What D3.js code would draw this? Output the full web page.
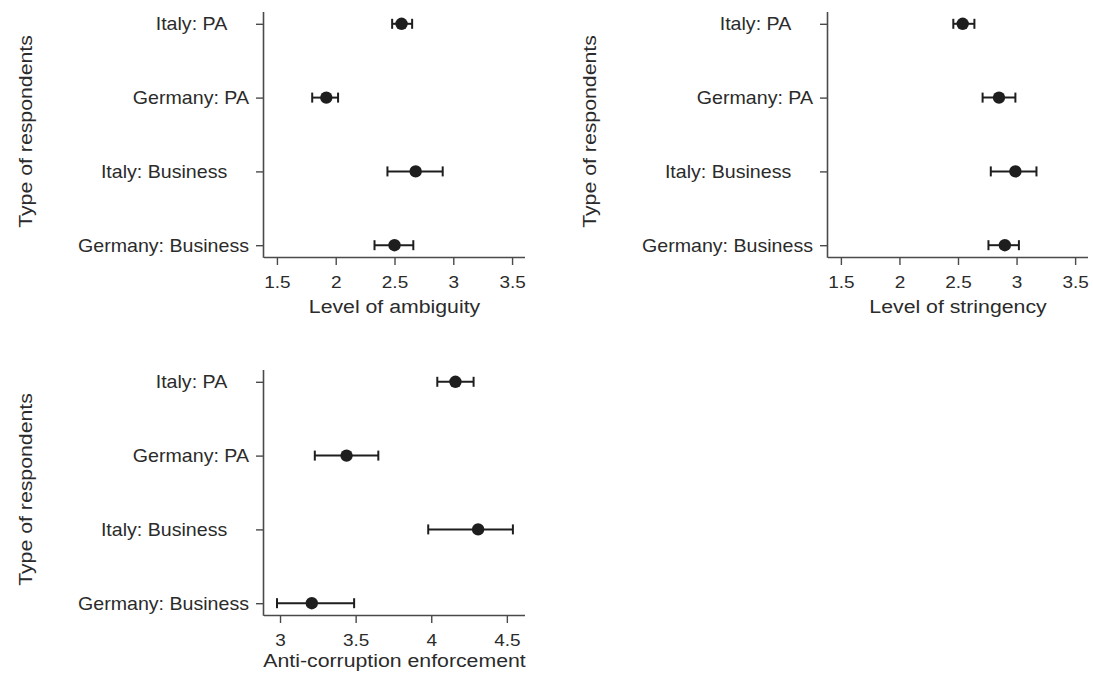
<!DOCTYPE html>
<html>
<head>
<meta charset="utf-8">
<script src="https://cdn.jsdelivr.net/npm/d3@7"></script>
<style>
  html, body { margin: 0; padding: 0; background: #fff; }
  svg { display: block; }
  text { font-family: "Liberation Sans", Arial, Helvetica, sans-serif; fill: #2b2b2b; }
</style>
</head>
<body>
<svg id="chart" width="1093" height="677"></svg>
<script>
// ---------- data ----------
const categories = ["Italy: PA\u00a0\u00a0\u00a0\u00a0", "Germany: PA", "Italy: Business\u00a0\u00a0\u00a0\u00a0", "Germany: Business"];

const ambiguityMean = [2.56, 1.92, 2.68, 2.50];
const ambiguityLow  = [2.48, 1.80, 2.44, 2.33];
const ambiguityHigh = [2.65, 2.02, 2.91, 2.66];

const stringencyMean = [2.54, 2.85, 2.99, 2.90];
const stringencyLow  = [2.46, 2.71, 2.78, 2.76];
const stringencyHigh = [2.64, 2.99, 3.17, 3.02];

const enforcementMean = [4.16, 3.44, 4.31, 3.21];
const enforcementLow  = [4.04, 3.23, 3.98, 2.98];
const enforcementHigh = [4.28, 3.65, 4.54, 3.49];

const levelTicks = [1.5, 2, 2.5, 3, 3.5];
const enforcementTicks = [3, 3.5, 4, 4.5];

const yTitle = "Type of respondents";
const xTitles = ["Level of ambiguity", "Level of stringency", "Anti-corruption enforcement"];

// ---------- layout ----------
const panels = [
  { x0: 264, x1: 525, y0: 12, y1: 257, domain: [1.39, 3.61], ticks: levelTicks,
    mean: ambiguityMean, low: ambiguityLow, high: ambiguityHigh, title: xTitles[0], titleOff: 56 },
  { x0: 828, x1: 1088, y0: 12, y1: 257, domain: [1.39, 3.61], ticks: levelTicks,
    mean: stringencyMean, low: stringencyLow, high: stringencyHigh, title: xTitles[1], titleOff: 56 },
  { x0: 264, x1: 525, y0: 370, y1: 615, domain: [2.894, 4.62], ticks: enforcementTicks,
    mean: enforcementMean, low: enforcementLow, high: enforcementHigh, title: xTitles[2], titleOff: 52 }
];

const SX_TICK = 1.15, SX_LAB = 1.06, SX_TITLE = 1.12;
const axisColor = "#4a4a4a";
const markColor = "#1e1e1e";

const svg = d3.select("#chart");

panels.forEach(p => {
  const x = d3.scaleLinear().domain(p.domain).range([p.x0, p.x1]);
  const y = d3.scalePoint().domain(categories).range([p.y0, p.y1]).padding(0.16);
  const g = svg.append("g");

  // x axis
  const xa = g.append("g")
    .attr("transform", `translate(0,${p.y1})`)
    .call(d3.axisBottom(x).tickValues(p.ticks).tickFormat(d3.format("")).tickSizeInner(8).tickSizeOuter(0).tickPadding(11));
  xa.select(".domain").attr("stroke", axisColor).attr("stroke-width", 1.6)
    .attr("d", `M${p.x0},0.5H${p.x1}`);
  xa.selectAll(".tick line").attr("stroke", axisColor).attr("stroke-width", 1.4);
  xa.selectAll(".tick text").attr("font-size", 16.5).attr("fill", "#2b2b2b")
    .attr("font-family", "Liberation Sans, Arial, sans-serif")
    .attr("transform", `scale(${SX_TICK},1)`);

  // y axis
  const ya = g.append("g")
    .attr("transform", `translate(${p.x0},0)`)
    .call(d3.axisLeft(y).tickSizeInner(8).tickSizeOuter(0).tickPadding(7));
  ya.select(".domain").attr("stroke", axisColor).attr("stroke-width", 1.6)
    .attr("d", `M-0.5,${p.y0}V${p.y1 + 0.8}`);
  ya.selectAll(".tick line").attr("stroke", axisColor).attr("stroke-width", 1.4);
  ya.selectAll(".tick text").attr("font-size", 18.5).attr("fill", "#2b2b2b")
    .attr("font-family", "Liberation Sans, Arial, sans-serif")
    .attr("x", -15 / SX_LAB)
    .attr("transform", `scale(${SX_LAB},1)`);

  // x title
  g.append("text")
    .attr("transform", `translate(${(p.x0 + p.x1) / 2},${p.y1 + p.titleOff}) scale(${SX_TITLE},1)`)
    .attr("text-anchor", "middle")
    .attr("font-size", 19)
    .text(p.title);

  // y title
  g.append("text")
    .attr("transform", `translate(${p.x0 - 232},${(p.y0 + p.y1) / 2 - 3}) rotate(-90) scale(${SX_TITLE},1)`)
    .attr("text-anchor", "middle")
    .attr("font-size", 19)
    .text(yTitle);

  // error bars
  const rows = categories.map((c, i) => ({ c, m: p.mean[i], lo: p.low[i], hi: p.high[i] }));
  const cap = 5;
  const eb = g.append("g").attr("stroke", markColor).attr("stroke-width", 2).attr("fill", "none");
  eb.selectAll("line.bar").data(rows).join("line").attr("class", "bar")
    .attr("x1", d => x(d.lo)).attr("x2", d => x(d.hi))
    .attr("y1", d => y(d.c)).attr("y2", d => y(d.c));
  eb.selectAll("line.capl").data(rows).join("line").attr("class", "capl")
    .attr("x1", d => x(d.lo)).attr("x2", d => x(d.lo))
    .attr("y1", d => y(d.c) - cap).attr("y2", d => y(d.c) + cap);
  eb.selectAll("line.caph").data(rows).join("line").attr("class", "caph")
    .attr("x1", d => x(d.hi)).attr("x2", d => x(d.hi))
    .attr("y1", d => y(d.c) - cap).attr("y2", d => y(d.c) + cap);

  // points
  g.selectAll("circle").data(rows).join("circle")
    .attr("cx", d => x(d.m)).attr("cy", d => y(d.c)).attr("r", 6.2)
    .attr("fill", markColor);
});
</script>
</body>
</html>
